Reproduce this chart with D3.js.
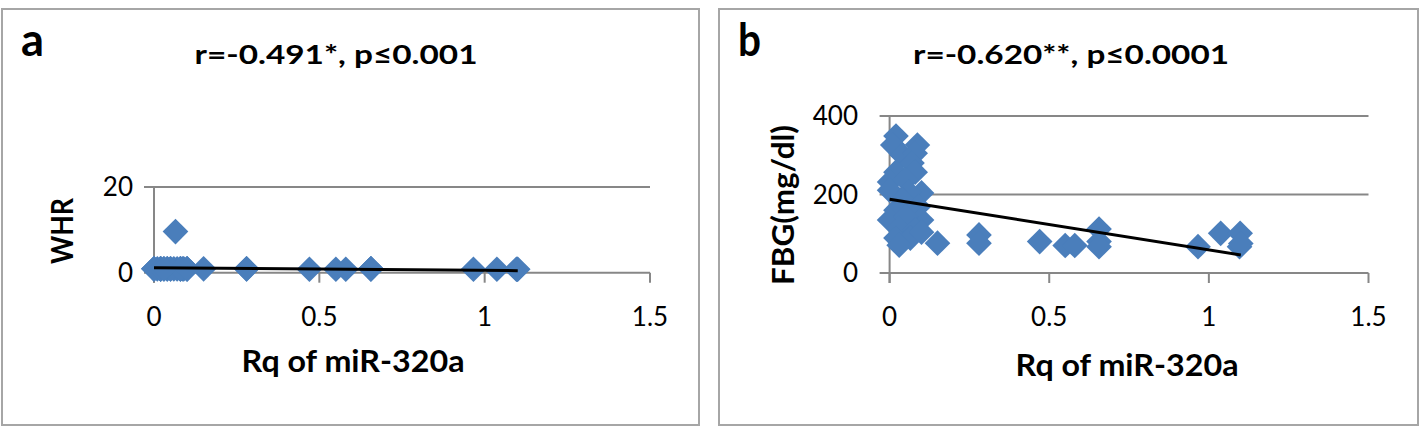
<!DOCTYPE html>
<html><head><meta charset="utf-8">
<script src="https://cdn.jsdelivr.net/npm/d3@7"></script>
<style>
body{margin:0;background:#fff;}
text{font-family:Lato,"Open Sans","Liberation Sans",sans-serif;}
</style></head>
<body><svg id="c" width="1423" height="428"></svg>
<script>
// Data — same subjects in both panels
const rq  = [0.02,0.087,0.01,0.04,0.08,0.07,0.02,0.08,0.00,0.05,0.00,0.10,0.06,0.04,0.09,0.02,0.00,0.10,0.05,0.03,0.08,0.02,0.065,0.03,0.10,
             0.15,0.28,0.28,0.47,0.55,0.58,0.656,0.656,0.656,0.966,1.037,1.098,1.096,1.10];
const whr = [0.9,0.9,0.9,0.9,0.9,0.9,0.9,0.9,0.9,0.9,0.9,0.9,0.9,0.9,0.9,0.9,0.9,0.9,0.9,0.9,0.9,0.9,9.6,0.9,0.9,
             0.9,0.9,0.9,0.8,0.8,0.8,0.9,0.9,0.9,0.8,0.8,0.8,0.8,0.8];
const fbg = [349,326,326,300,305,280,257,257,232,237,211,204,206,186,169,160,135,135,143,114,110,89,89,71,104,
             76,97,76,80,70,70,112,80,67,67,101,101,67,75];
const xTicks = [0,0.5,1,1.5];
const whrTicks = [0,20];
const fbgTicks = [0,200,400];
const whrTrend = [[0,1.17],[1.1,0.47]];
const fbgTrend = [[0,188],[1.1,46]];

const svg = d3.select("#c");
const blue = "#4A7EBB", grid = "#878787";

function panel(o){
  const g = svg.append("g");
  g.append("rect").attr("x",o.box[0]).attr("y",o.box[1]).attr("width",o.box[2]).attr("height",o.box[3])
    .attr("fill","none").attr("stroke","#a6a6a6").attr("stroke-width",2);
  const x = d3.scaleLinear().domain([0,1.5]).range(o.xr);
  const y = d3.scaleLinear().domain([0,o.ymax]).range(o.yr);
  g.selectAll(".gl").data(o.yTicks.filter(t=>t>0)).join("line")
    .attr("x1",o.xr[0]-10).attr("x2",o.xr[1]).attr("y1",d=>y(d)).attr("y2",d=>y(d))
    .attr("stroke",grid).attr("stroke-width",2);
  g.append("line").attr("x1",x(0)).attr("x2",x(0)).attr("y1",y(o.ymax)).attr("y2",y(0)+10)
    .attr("stroke",grid).attr("stroke-width",2);
  g.append("line").attr("x1",o.xr[0]-10).attr("x2",o.xr[1]).attr("y1",y(0)).attr("y2",y(0))
    .attr("stroke",grid).attr("stroke-width",2);
  g.selectAll(".xt").data(xTicks).join("line")
    .attr("x1",d=>x(d)).attr("x2",d=>x(d)).attr("y1",y(0)).attr("y2",y(0)+10)
    .attr("stroke",grid).attr("stroke-width",2);
  g.selectAll(".xl").data(xTicks).join("text")
    .attr("x",d=>x(d)).attr("y",y(0)+53).attr("text-anchor","middle")
    .attr("font-size",26).attr("fill","#000").text(d=>d3.format("")(d));
  g.selectAll(".yl").data(o.yTicks).join("text")
    .attr("x",o.ylx).attr("y",d=>y(d)+9).attr("text-anchor","end")
    .attr("font-size",26).attr("fill","#000").text(d=>d);
  g.selectAll(".pt").data(d3.range(rq.length)).join("path")
    .attr("d",d3.symbol(d3.symbolSquare,330))
    .attr("transform",i=>`translate(${x(rq[i])},${y(o.vals[i])}) rotate(45)`)
    .attr("fill",blue);
  g.append("line").attr("x1",x(o.trend[0][0])).attr("y1",y(o.trend[0][1]))
    .attr("x2",x(o.trend[1][0])).attr("y2",y(o.trend[1][1]))
    .attr("stroke","#000").attr("stroke-width",3);
  g.append("text").attr("x",o.letter[0]).attr("y",o.letter[1]).attr("font-size",46).attr("font-weight","bold")
    .attr("textLength",o.letterW).attr("lengthAdjust","spacingAndGlyphs").text(o.letterT);
  g.append("text").attr("x",o.title[0]).attr("y",o.title[1]).attr("text-anchor","middle").attr("font-size",27).attr("font-weight","bold")
    .attr("textLength",o.titleW).attr("lengthAdjust","spacingAndGlyphs").text(o.titleT);
  g.append("text").attr("x",o.xt[0]).attr("y",o.xt[1]).attr("text-anchor","middle").attr("font-size",30).attr("font-weight","bold")
    .attr("textLength",223).attr("lengthAdjust","spacingAndGlyphs").text("Rq of miR-320a");
  g.append("text").attr("transform",`translate(${o.yt[0]},${o.yt[1]}) rotate(-90)`).attr("text-anchor","middle").attr("font-size",30).attr("font-weight","bold")
    .attr("textLength",o.ytW).attr("lengthAdjust","spacingAndGlyphs").text(o.ytT);
}

panel({box:[2,9,697,416], xr:[154,650], yr:[272.7,187], ymax:20, yTicks:whrTicks, ylx:133, vals:whr, trend:whrTrend,
  letter:[21,56], letterW:23, letterT:"a", title:[336,64], titleW:283, titleT:"r=-0.491*, p≤0.001", xt:[353,372], yt:[73,231], ytW:66, ytT:"WHR"});
panel({box:[719,9,699,416], xr:[889.6,1368.5], yr:[273,116], ymax:400, yTicks:fbgTicks, ylx:858, vals:fbg, trend:fbgTrend,
  letter:[738,56], letterW:23, letterT:"b", title:[1071,64], titleW:316, titleT:"r=-0.620**, p≤0.0001", xt:[1127,376], yt:[794,205], ytW:160, ytT:"FBG(mg/dl)"});
</script></body></html>
